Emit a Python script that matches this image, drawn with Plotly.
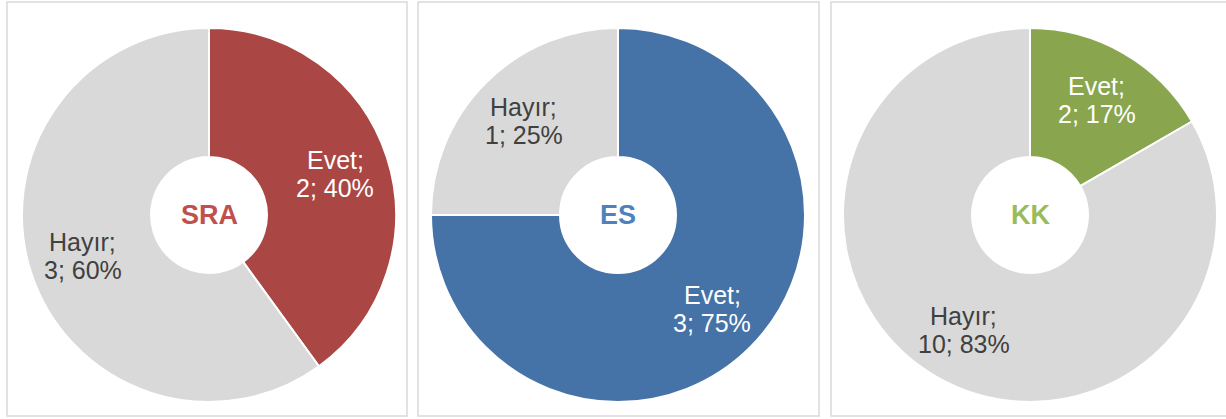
import math
import plotly.graph_objects as go

W, H = 1226, 419

# Data
charts = ["SRA", "ES", "KK"]
categories = ["Evet", "Hayır"]
values_sra = [2, 3]
values_es = [3, 1]
values_kk = [2, 10]
all_values = [values_sra, values_es, values_kk]

slice_colors = [["#AA4643", "#D9D9D9"], ["#4572A7", "#D9D9D9"], ["#89A54E", "#D9D9D9"]]
title_colors = ["#C0504D", "#4F81BD", "#9BBB59"]
label_colors = ["#FFFFFF", "#404040"]

# Layout geometry (pixels)
centers = [(209, 215), (618, 215), (1030, 215)]
radius = 187
label_r = 133
line_gap = 14
panels = [(7, 2, 407, 416), (418, 2, 819, 416), (831, 2, 1230, 416)]

fig = go.Figure()
annotations = []
shapes = []

for i, name in enumerate(charts):
    cx, cy = centers[i]
    vals = all_values[i]
    fig.add_trace(go.Pie(
        labels=categories, values=vals, sort=False, direction="clockwise", rotation=0,
        hole=0.31, textinfo="none", hoverinfo="label+value+percent",
        marker=dict(colors=slice_colors[i], line=dict(color="#FFFFFF", width=2)),
        domain=dict(x=[(cx - radius) / W, (cx + radius) / W],
                    y=[1 - (cy + radius) / H, 1 - (cy - radius) / H]),
        showlegend=False,
    ))
    total = sum(vals)
    cum = 0
    for j, v in enumerate(vals):
        mid = (cum + v / 2) / total * 2 * math.pi
        cum += v
        px = cx + label_r * math.sin(mid)
        py = cy - label_r * math.cos(mid)
        pct = round(100 * v / total)
        for k, txt in enumerate([f"{categories[j]};", f"{v}; {pct}%"]):
            yy = py + (line_gap if k else -line_gap)
            annotations.append(dict(
                x=px / W, y=1 - yy / H, xref="paper", yref="paper",
                text=txt, showarrow=False, align="center",
                font=dict(family="Liberation Sans, Arial", size=25, color=label_colors[j]),
                xanchor="center", yanchor="middle"))
    annotations.append(dict(
        x=cx / W, y=1 - cy / H, xref="paper", yref="paper",
        text=f"<b>{name}</b>", showarrow=False,
        font=dict(family="Liberation Sans, Arial", size=27, color=title_colors[i]),
        xanchor="center", yanchor="middle"))
    x0, y0, x1, y1 = panels[i]
    shapes.append(dict(type="rect", xref="paper", yref="paper",
                       x0=x0 / W, x1=x1 / W, y0=1 - y1 / H, y1=1 - y0 / H,
                       line=dict(color="#D9D9D9", width=1.5), layer="below"))

fig.update_layout(
    width=W, height=H, margin=dict(l=0, r=0, t=0, b=0),
    paper_bgcolor="#FFFFFF", plot_bgcolor="#FFFFFF",
    annotations=annotations, shapes=shapes,
)

fig.write_html("out.html", config={"displayModeBar": False},
               post_script="document.body.style.margin='0';document.body.style.overflow='hidden';")
